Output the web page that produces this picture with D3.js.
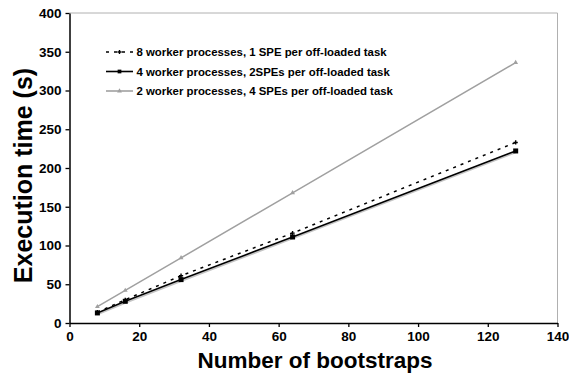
<!DOCTYPE html>
<html>
<head>
<meta charset="utf-8">
<script src="https://cdn.jsdelivr.net/npm/d3@7"></script>
<style>
  html, body { margin: 0; padding: 0; background: #fff; }
  svg { display: block; font-family: "Liberation Sans", Arial, Helvetica, sans-serif; }
</style>
</head>
<body>
<svg id="chart" width="569" height="376"></svg>
<script>
// Number of bootstraps run
const bootstraps = [8, 16, 32, 64, 128];

// Execution time (s) for each configuration
const eightWorkers = [14, 30, 61, 116, 233];
const fourWorkers  = [13, 28, 56, 111, 222];
const twoWorkers   = [21, 42, 84, 168, 336];

const seriesNames = [
  "8 worker processes, 1 SPE per off-loaded task",
  "4 worker processes, 2SPEs per off-loaded task",
  "2 worker processes, 4 SPEs per off-loaded task"
];

const xTicks = [0, 20, 40, 60, 80, 100, 120, 140];
const yTicks = [0, 50, 100, 150, 200, 250, 300, 350, 400];

const svg = d3.select("#chart");
const plotLeft = 69.5, plotRight = 557.5, plotTop = 13, plotBottom = 323;

const x = d3.scaleLinear().domain([0, 140]).range([plotLeft, plotRight]);
const y = d3.scaleLinear().domain([0, 400]).range([plotBottom, plotTop]);

// Light frame on the top and right sides
svg.append("path")
  .attr("d", `M${plotLeft},${plotTop}H${plotRight}V${plotBottom}`)
  .attr("fill", "none")
  .attr("stroke", "#b0b0b0")
  .attr("stroke-width", 1);

// Axes
const xAxis = svg.append("g")
  .attr("transform", `translate(0,${plotBottom})`)
  .call(d3.axisBottom(x).tickValues(xTicks).tickSize(4).tickSizeOuter(0).tickPadding(4));
const yAxis = svg.append("g")
  .attr("transform", `translate(${plotLeft},0)`)
  .call(d3.axisLeft(y).tickValues(yTicks).tickSize(4).tickSizeOuter(0).tickPadding(4));

[xAxis, yAxis].forEach(g => {
  g.select(".domain").attr("stroke", "#000").attr("stroke-width", 1.5);
  g.selectAll(".tick line").attr("stroke", "#000").attr("stroke-width", 1.3);
  g.selectAll(".tick text")
    .attr("fill", "#000")
    .style("font-size", "13.5px")
    .style("font-weight", "bold")
    .style("font-family", "'Liberation Sans', Arial, sans-serif");
});

// Axis titles
svg.append("text")
  .attr("x", 315)
  .attr("y", 368)
  .attr("text-anchor", "middle")
  .style("font-size", "22.5px")
  .style("font-weight", "bold")
  .text("Number of bootstraps");

svg.append("text")
  .attr("transform", "translate(32,175.5) rotate(-90)")
  .attr("text-anchor", "middle")
  .style("font-size", "25px")
  .style("font-weight", "bold")
  .text("Execution time (s)");

const line = d3.line().x((d, i) => x(bootstraps[i])).y(d => y(d));

// 2 workers: grey line with small triangles
svg.append("path")
  .datum(twoWorkers)
  .attr("d", line)
  .attr("fill", "none")
  .attr("stroke", "#a0a0a0")
  .attr("stroke-width", 1.5);
svg.append("g").selectAll("path")
  .data(twoWorkers)
  .join("path")
  .attr("d", d3.symbol(d3.symbolTriangle, 10))
  .attr("transform", (d, i) => `translate(${x(bootstraps[i])},${y(d)})`)
  .attr("fill", "#a0a0a0");

// 4 workers: solid black line with soft shadow and square markers
svg.append("path")
  .datum(fourWorkers)
  .attr("d", line)
  .attr("transform", "translate(0,1.6)")
  .attr("fill", "none")
  .attr("stroke", "#c4c4c4")
  .attr("stroke-width", 1.6);
svg.append("path")
  .datum(fourWorkers)
  .attr("d", line)
  .attr("fill", "none")
  .attr("stroke", "#000")
  .attr("stroke-width", 1.6);
svg.append("g").selectAll("rect")
  .data(fourWorkers)
  .join("rect")
  .attr("x", (d, i) => x(bootstraps[i]) - 2.5)
  .attr("y", d => y(d) - 2.5)
  .attr("width", 5)
  .attr("height", 5)
  .attr("fill", "#000");

// 8 workers: dashed black line with small cross markers
svg.append("path")
  .datum(eightWorkers)
  .attr("d", line)
  .attr("fill", "none")
  .attr("stroke", "#000")
  .attr("stroke-width", 1.5)
  .attr("stroke-dasharray", "3,5");
svg.append("g").selectAll("path")
  .data(eightWorkers)
  .join("path")
  .attr("d", d3.symbol(d3.symbolCross, 10))
  .attr("transform", (d, i) => `translate(${x(bootstraps[i])},${y(d)})`)
  .attr("fill", "#000");

// Legend
const legend = svg.append("g").attr("transform", "translate(106,52)");
const rowGap = 19.5;
const styles = [
  { stroke: "#000", dash: "3,5", marker: "cross" },
  { stroke: "#000", dash: null, marker: "square" },
  { stroke: "#a0a0a0", dash: null, marker: "triangle" }
];
seriesNames.forEach((name, i) => {
  const row = legend.append("g").attr("transform", `translate(0,${i * rowGap})`);
  row.append("line")
    .attr("x1", 0).attr("x2", 27).attr("y1", 0).attr("y2", 0)
    .attr("stroke", styles[i].stroke)
    .attr("stroke-width", 1.6)
    .attr("stroke-dasharray", styles[i].dash);
  const sym = styles[i].marker === "cross" ? d3.symbolCross
            : styles[i].marker === "square" ? d3.symbolSquare : d3.symbolTriangle;
  row.append("path")
    .attr("d", d3.symbol(sym, styles[i].marker === "square" ? 14 : 10))
    .attr("transform", "translate(13.5,0)")
    .attr("fill", styles[i].stroke);
  row.append("text")
    .attr("x", 30.5)
    .attr("y", 4)
    .style("font-size", "11.4px")
    .style("font-weight", "bold")
    .text(name);
});
</script>
</body>
</html>
